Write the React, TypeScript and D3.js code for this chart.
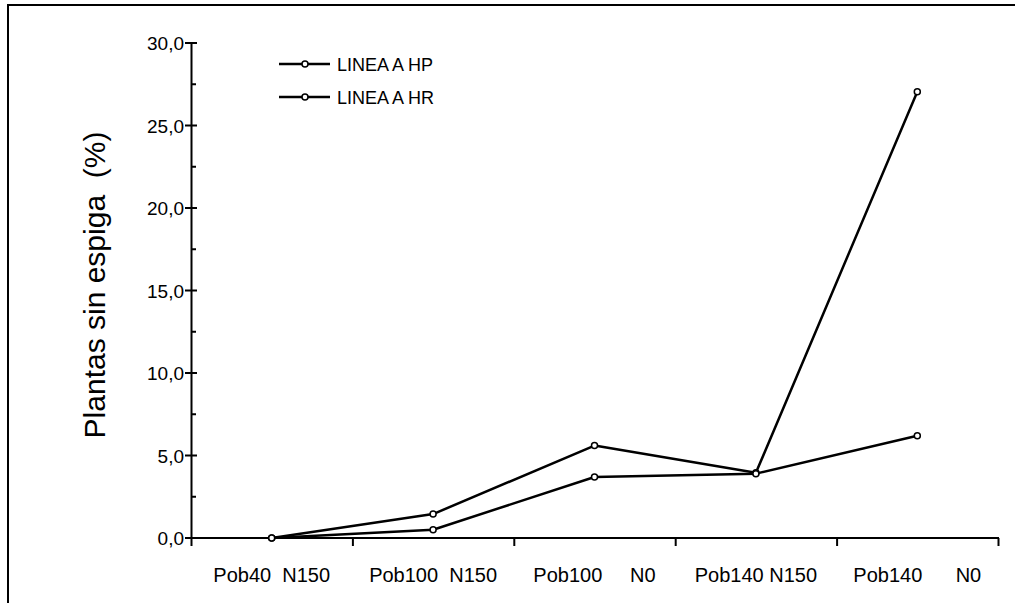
import React from "react";
import * as d3 from "d3";

const categories = ["Pob40  N150", "Pob100  N150", "Pob100     N0", "Pob140 N150", "Pob140      N0"];
const seriesNames = ["LINEA A HP", "LINEA A HR"];
const hpValues = [0, 1.45, 5.6, 3.95, 27.05];
const hrValues = [0, 0.5, 3.7, 3.9, 6.2];
const yTicks = [0, 5, 10, 15, 20, 25, 30];
const yMinorTicks = [2.5, 7.5, 12.5, 17.5, 22.5, 27.5];

const W = 1015;
const H = 603;
const FONT = "'Liberation Sans', Arial, sans-serif";

export default function App() {
  const x = d3.scaleBand<string>().domain(categories).range([191, 998]).padding(0);
  const y = d3.scaleLinear().domain([0, 30]).range([538, 43]);
  const line = d3
    .line<number>()
    .x((_, i) => (x(categories[i]) as number) + x.bandwidth() / 2)
    .y((d) => y(d));
  const series = [hpValues, hrValues];
  const fmt = (v: number) => v.toFixed(1).replace(".", ",");
  const boundaries = [...categories.map((c) => x(c) as number), 998];

  return (
    <svg
      width={W}
      height={H}
      style={{ position: "absolute", left: 0, top: 0, background: "#fff" }}
      fontFamily={FONT}
    >
      <rect x={0} y={0} width={W} height={H} fill="#fff" />
      {/* outer frame */}
      <path d={`M8,${H + 5} L8,5 L${W + 5},5`} fill="none" stroke="#000" strokeWidth={2} />

      {/* y axis */}
      <line x1={191.5} x2={191.5} y1={y(30)} y2={y(0)} stroke="#000" strokeWidth={2} />
      {yTicks.map((t) => (
        <g key={t}>
          <line x1={185} x2={197} y1={y(t)} y2={y(t)} stroke="#000" strokeWidth={2} />
          <text x={184} y={y(t) + 7} textAnchor="end" fontSize={19} fill="#000">
            {fmt(t)}
          </text>
        </g>
      ))}
      {yMinorTicks.map((t) => (
        <line key={t} x1={191} x2={196} y1={y(t)} y2={y(t)} stroke="#000" strokeWidth={2} />
      ))}

      {/* x axis */}
      <line x1={191} x2={999} y1={538} y2={538} stroke="#000" strokeWidth={2} />
      {boundaries.map((b, i) => (
        <line key={i} x1={b + 0.5} x2={b + 0.5} y1={538} y2={546} stroke="#000" strokeWidth={2} />
      ))}
      {categories.map((c) => (
        <text
          key={c}
          x={(x(c) as number) + x.bandwidth() / 2}
          y={582}
          textAnchor="middle"
          fontSize={20}
          fill="#000"
          style={{ whiteSpace: "pre" }}
        >
          {c}
        </text>
      ))}

      {/* y label */}
      <text
        transform={`translate(105,285) rotate(-90)`}
        textAnchor="middle"
        fontSize={30}
        fill="#000"
        style={{ whiteSpace: "pre" }}
      >
        {"Plantas sin espiga  (%)"}
      </text>

      {/* series */}
      {series.map((s, si) => (
        <g key={si}>
          <path d={line(s) as string} fill="none" stroke="#000" strokeWidth={2.5} strokeLinejoin="round" />
          {s.map((v, i) => (
            <circle
              key={i}
              cx={(x(categories[i]) as number) + x.bandwidth() / 2}
              cy={y(v)}
              r={3}
              fill="#fff"
              stroke="#000"
              strokeWidth={1.5}
            />
          ))}
        </g>
      ))}

      {/* legend */}
      {seriesNames.map((n, i) => {
        const ly = 64 + i * 33;
        return (
          <g key={n}>
            <line x1={279} x2={330} y1={ly} y2={ly} stroke="#000" strokeWidth={2.5} />
            <circle cx={305} cy={ly} r={3} fill="#fff" stroke="#000" strokeWidth={1.5} />
            <text x={337} y={ly + 7} fontSize={18} fill="#000">
              {n}
            </text>
          </g>
        );
      })}
    </svg>
  );
}
